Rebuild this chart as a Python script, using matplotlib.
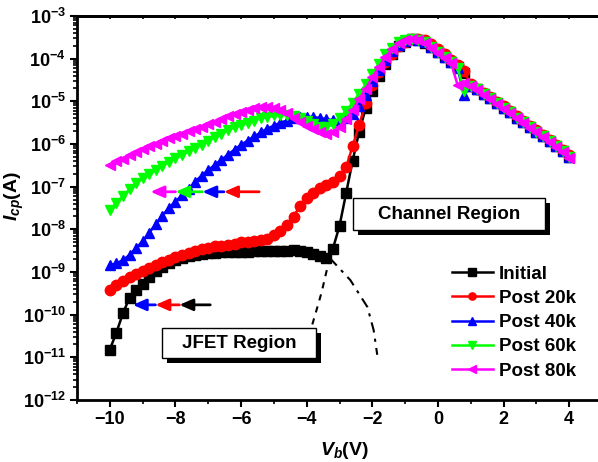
import numpy as np
import matplotlib
matplotlib.use("Agg")
import matplotlib.pyplot as plt
from matplotlib.patches import Rectangle
import matplotlib.patheffects as pe

plt.rcParams['font.family'] = 'Liberation Sans'
plt.rcParams['font.weight'] = 'bold'
plt.rcParams['mathtext.fontset'] = 'custom'
plt.rcParams['mathtext.rm'] = 'Liberation Sans:bold'
plt.rcParams['mathtext.it'] = 'Liberation Sans:italic:bold'
plt.rcParams['mathtext.bf'] = 'Liberation Sans:bold'
plt.rcParams['mathtext.default'] = 'regular'

# bias voltage (V), 0.2 V steps from -10 to 4
vb = np.round(np.arange(-10, 4.01, 0.2), 1)

# log10 of Icp (A)
log_initial = [-10.82, -10.42, -9.97, -9.60, -9.43, -9.27, -9.12, -8.98, -8.88, -8.80,
               -8.73, -8.67, -8.63, -8.60, -8.57, -8.56, -8.55, -8.54, -8.53, -8.53,
               -8.52, -8.52, -8.51, -8.51, -8.50, -8.50, -8.50, -8.50, -8.49, -8.50,
               -8.53, -8.57, -8.62, -8.68, -8.45, -7.92, -7.16, -6.39, -5.71, -5.16,
               -4.76, -4.41, -4.12, -3.88, -3.70, -3.60, -3.55, -3.57, -3.63, -3.73,
               -3.84, -3.96, -4.08, -4.20, -4.33, -4.63, -4.72, -4.82, -4.93, -5.04,
               -5.15, -5.26, -5.38, -5.49, -5.60, -5.71, -5.82, -5.94, -6.05, -6.17, -6.30]
log_20k = [-9.43, -9.30, -9.20, -9.12, -9.05, -8.98, -8.91, -8.84, -8.77, -8.71,
           -8.65, -8.60, -8.55, -8.50, -8.46, -8.43, -8.40, -8.38, -8.36, -8.34,
           -8.30, -8.29, -8.28, -8.26, -8.22, -8.14, -8.04, -7.90, -7.70, -7.45,
           -7.27, -7.15, -7.04, -6.95, -6.88, -6.76, -6.55, -6.05, -5.55, -5.03,
           -4.62, -4.32, -4.07, -3.88, -3.70, -3.60, -3.55, -3.53, -3.57, -3.66,
           -3.78, -3.90, -4.02, -4.14, -4.30, -4.60, -4.70, -4.80, -4.90, -5.01,
           -5.12, -5.23, -5.35, -5.46, -5.57, -5.68, -5.79, -5.91, -6.02, -6.14, -6.26]
log_40k = [-8.84, -8.80, -8.72, -8.60, -8.44, -8.28, -8.08, -7.88, -7.68, -7.50,
           -7.35, -7.20, -7.06, -6.88, -6.74, -6.61, -6.49, -6.37, -6.25, -6.13,
           -6.02, -5.92, -5.82, -5.73, -5.64, -5.57, -5.50, -5.45, -5.40, -5.37,
           -5.36, -5.37, -5.39, -5.42, -5.44, -5.44, -5.40, -5.30, -5.12, -4.84,
           -4.52, -4.27, -4.02, -3.82, -3.68, -3.58, -3.54, -3.56, -3.62, -3.72,
           -3.84, -3.96, -4.08, -4.22, -4.85, -4.63, -4.72, -4.82, -4.93, -5.04,
           -5.15, -5.26, -5.38, -5.49, -5.60, -5.71, -5.82, -5.94, -6.05, -6.17, -6.30]
log_60k = [-7.55, -7.38, -7.22, -7.06, -6.91, -6.80, -6.70, -6.60, -6.51, -6.42,
           -6.33, -6.25, -6.17, -6.09, -6.02, -5.93, -5.84, -5.76, -5.68, -5.61,
           -5.55, -5.50, -5.45, -5.40, -5.36, -5.33, -5.32, -5.32, -5.35, -5.40,
           -5.47, -5.54, -5.60, -5.61, -5.53, -5.38, -5.23, -5.03, -4.82, -4.60,
           -4.35, -4.12, -3.90, -3.74, -3.62, -3.56, -3.54, -3.56, -3.62, -3.72,
           -3.84, -3.96, -4.08, -4.22, -4.75, -4.63, -4.72, -4.82, -4.93, -5.04,
           -5.15, -5.26, -5.38, -5.49, -5.60, -5.71, -5.82, -5.94, -6.05, -6.17, -6.30]
log_80k = [-6.49, -6.41, -6.34, -6.26, -6.19, -6.12, -6.05, -5.99, -5.93, -5.86,
           -5.81, -5.76, -5.70, -5.65, -5.60, -5.54, -5.48, -5.42, -5.34, -5.29,
           -5.24, -5.20, -5.16, -5.14, -5.13, -5.15, -5.20, -5.28, -5.40, -5.49,
           -5.57, -5.66, -5.73, -5.76, -5.72, -5.60, -5.42, -5.20, -4.95, -4.70,
           -4.44, -4.19, -3.97, -3.78, -3.64, -3.56, -3.53, -3.56, -3.63, -3.74,
           -3.86, -3.98, -4.10, -4.62, -4.58, -4.65, -4.74, -4.84, -4.95, -5.06,
           -5.17, -5.28, -5.40, -5.51, -5.62, -5.73, -5.84, -5.96, -6.07, -6.19, -6.33]

labels = ['Initial', 'Post 20k', 'Post 40k', 'Post 60k', 'Post 80k']
colors = ['black', 'red', 'blue', '#00ff00', 'magenta']
markers = ['s', 'o', '^', 'v', '<']

# extrapolation guides near the JFET/channel crossover
dash_x = [-3.30, -3.55, -3.76, -3.94, -4.06]
dash_log = [-8.67, -9.49, -10.05, -10.52, -10.85]
dashdot_x = [-3.30, -2.67, -2.15, -1.96, -1.85]
dashdot_log = [-8.67, -9.19, -9.82, -10.36, -10.94]

# shift arrows (tail, head) in V, and their heights
top_arrows = [(-5.45, -6.52, 'red'), (-6.52, -7.18, 'blue'),
              (-7.18, -8.0, '#00ff00'), (-8.0, -8.76, 'magenta')]
top_arrow_log = -7.12
bot_arrows = [(-6.94, -7.88, 'black'), (-7.88, -8.61, 'red'), (-8.61, -9.30, 'blue')]
bot_arrow_log = -9.77

fig = plt.figure(figsize=(5.98, 4.62), dpi=100)
ax = fig.add_axes([77 / 598, 62 / 462, 525 / 598, 384 / 462])

series = [log_initial, log_20k, log_40k, log_60k, log_80k]
for vals, lab, c, m in zip(series, labels, colors, markers):
    ax.plot(vb, 10 ** np.array(vals), color=c, marker=m, markersize=7.5,
            markeredgecolor=c, linewidth=1.8, label=lab)

ax.plot(dash_x, 10 ** np.array(dash_log), color='black', linestyle=(0, (3, 3)), linewidth=1.5)
ax.plot(dashdot_x, 10 ** np.array(dashdot_log), color='black', linestyle=(0, (5, 3, 1.5, 3)), linewidth=1.5)

for tail, head, c in top_arrows:
    ax.annotate('', xy=(head, 10 ** top_arrow_log), xytext=(tail, 10 ** top_arrow_log),
                arrowprops=dict(arrowstyle='-|>,head_length=0.8,head_width=0.35', color=c, lw=2,
                                shrinkA=0, shrinkB=0))
for tail, head, c in bot_arrows:
    ax.annotate('', xy=(head, 10 ** bot_arrow_log), xytext=(tail, 10 ** bot_arrow_log),
                arrowprops=dict(arrowstyle='-|>,head_length=0.8,head_width=0.35', color=c, lw=2,
                                shrinkA=0, shrinkB=0))

# region boxes with drop shadow
shadow = [pe.withSimplePatchShadow(offset=(3.8, -3.8), shadow_rgbFace='black', alpha=1)]
for (x0, y0, w, h) in [(0.526, 0.443, 0.365, 0.083), (0.162, 0.109, 0.293, 0.078)]:
    r = Rectangle((x0, y0), w, h, transform=ax.transAxes, facecolor='white',
                  edgecolor='black', linewidth=1, zorder=4)
    r.set_path_effects(shadow)
    ax.add_patch(r)
ax.text(0.709, 0.484, 'Channel Region', transform=ax.transAxes, ha='center', va='center',
        fontsize=13.5, fontweight='bold', zorder=5)
ax.text(0.309, 0.148, 'JFET Region', transform=ax.transAxes, ha='center', va='center',
        fontsize=13.5, fontweight='bold', zorder=5)

ax.set_yscale('log')
ax.set_xlim(-11, 5)
ax.set_ylim(1e-12, 1e-3)
ax.set_xticks(np.arange(-10, 5, 2))
ax.set_xticks(np.arange(-11, 6, 1), minor=True)
ax.set_yticks([10.0 ** k for k in range(-12, -2)])
ax.tick_params(axis='both', which='major', direction='out', length=5, width=1.5,
               labelsize=13, pad=3)
ax.tick_params(axis='both', which='minor', direction='out', length=3, width=1.2)
for lab in ax.get_xticklabels() + ax.get_yticklabels():
    lab.set_fontweight('bold')

for s in ['left', 'bottom', 'top']:
    ax.spines[s].set_linewidth(2)
ax.spines['right'].set_visible(False)

top = ax.secondary_xaxis('top')
top.set_xticks(np.arange(-11, 6, 1))
top.tick_params(direction='in', length=2.5, width=1.2, labeltop=False)
top.spines['top'].set_linewidth(2)

ax.set_xlabel(r'$\mathit{V_b}$(V)', fontsize=14, fontweight='bold')
ax.xaxis.set_label_coords(0.51, -0.105)
ax.set_ylabel(r'$\mathit{I_{cp}}$(A)', fontsize=14, fontweight='bold')
ax.yaxis.set_label_coords(-0.097, 0.53)

ax.legend(loc='upper left', bbox_to_anchor=(0.714, 0.35), frameon=False, fontsize=13.5,
          borderpad=0, borderaxespad=0, handlelength=2.2, handletextpad=0.3,
          labelspacing=0.38, markerscale=0.7)

fig.savefig('out.png', dpi=100)
